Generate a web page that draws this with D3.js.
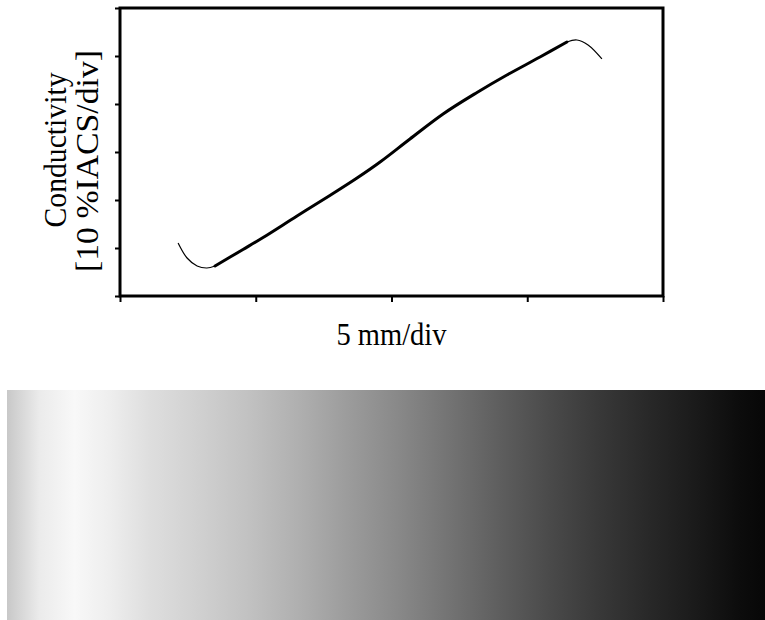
<!DOCTYPE html>
<html>
<head>
<meta charset="utf-8">
<script src="https://cdn.jsdelivr.net/npm/d3@7"></script>
<style>
  html, body { margin: 0; padding: 0; background: #fff; }
  svg { display: block; }
  text { font-family: "Liberation Serif", "Times New Roman", serif; fill: #000; }
</style>
</head>
<body>
<svg id="chart" width="765" height="620"></svg>
<script>
// Position along the specimen (mm) and measured conductivity (%IACS)
const mainX = [3.50, 4.53, 5.27, 6.52, 7.73, 8.73, 9.58, 10.68, 11.90, 13.15, 14.25, 15.47, 16.46];
const mainY = [6.25, 9.69, 12.19, 16.67, 20.94, 24.58, 27.92, 32.71, 37.92, 42.40, 46.04, 49.79, 52.92];
// Edge regions at both ends of the scan
const leftEdgeX = [2.14, 2.47, 2.84, 3.20, 3.50];
const leftEdgeY = [11.04, 7.92, 6.25, 5.83, 6.25];
const rightEdgeX = [16.46, 16.83, 17.24, 17.75];
const rightEdgeY = [52.92, 53.33, 52.29, 49.38];

// Axis divisions: 5 mm/div horizontally, 10 %IACS/div vertically
const xTicks = [0, 5, 10, 15, 20];
const yTicks = [0, 10, 20, 30, 40, 50, 60];

// Grey level (0-255) across the conductivity image strip, by relative position
const stripPos  = [0, 0.043, 0.089, 0.135, 0.188, 0.254, 0.320, 0.386, 0.452, 0.518, 0.584, 0.650, 0.716, 0.782, 0.848, 0.914, 0.967, 1];
const stripGrey = [200, 235, 248, 238, 222, 208, 193, 175, 155, 136, 115, 94, 74, 56, 40, 25, 12, 7];

const svg = d3.select("#chart");

const x = d3.scaleLinear().domain([0, 20]).range([120, 663]);
const y = d3.scaleLinear().domain([0, 60]).range([296, 8]);

// Ticks on left and bottom axes (no labels)
svg.append("g")
  .attr("transform", `translate(${x(0)},0)`)
  .call(d3.axisLeft(y).tickValues(yTicks).tickSize(5).tickFormat(""))
  .call(g => g.select(".domain").remove())
  .call(g => g.selectAll("line").attr("stroke", "#000").attr("stroke-width", 2));

svg.append("g")
  .attr("transform", `translate(0,${y(0)})`)
  .call(d3.axisBottom(x).tickValues(xTicks).tickSize(6).tickFormat(""))
  .call(g => g.select(".domain").remove())
  .call(g => g.selectAll("line").attr("stroke", "#000").attr("stroke-width", 2));

// Plot frame
svg.append("rect")
  .attr("x", x(0)).attr("y", y(60))
  .attr("width", x(20) - x(0)).attr("height", y(0) - y(60))
  .attr("fill", "none").attr("stroke", "#000").attr("stroke-width", 3);

const line = d3.line()
  .x(d => x(d[0]))
  .y(d => y(d[1]))
  .curve(d3.curveCatmullRom.alpha(0.5));

const zip = (a, b) => a.map((v, i) => [v, b[i]]);

svg.append("path")
  .attr("d", line(zip(leftEdgeX, leftEdgeY)))
  .attr("fill", "none").attr("stroke", "#000").attr("stroke-width", 1.2);

svg.append("path")
  .attr("d", line(zip(rightEdgeX, rightEdgeY)))
  .attr("fill", "none").attr("stroke", "#000").attr("stroke-width", 1.2);

svg.append("path")
  .attr("d", line(zip(mainX, mainY)))
  .attr("fill", "none").attr("stroke", "#000").attr("stroke-width", 3)
  .attr("stroke-linecap", "round");

// Axis titles
svg.append("text")
  .attr("x", (x(0) + x(20)) / 2).attr("y", 345)
  .attr("text-anchor", "middle")
  .attr("font-size", 32)
  .attr("textLength", 110)
  .attr("lengthAdjust", "spacingAndGlyphs")
  .text("5 mm/div");

const yTitle = svg.append("g")
  .attr("transform", `translate(0,${(y(0) + y(60)) / 2}) rotate(-90)`);
yTitle.append("text")
  .attr("x", 2).attr("y", 66)
  .attr("text-anchor", "middle")
  .attr("font-size", 32)
  .attr("textLength", 155)
  .attr("lengthAdjust", "spacingAndGlyphs")
  .text("Conductivity");
yTitle.append("text")
  .attr("x", -9).attr("y", 98)
  .attr("text-anchor", "middle")
  .attr("font-size", 32)
  .attr("textLength", 222)
  .attr("lengthAdjust", "spacingAndGlyphs")
  .text("[10 %IACS/div]");

// Conductivity image strip
const grad = svg.append("defs").append("linearGradient")
  .attr("id", "stripGrad")
  .attr("x1", "0%").attr("x2", "100%").attr("y1", "0%").attr("y2", "0%");
grad.selectAll("stop")
  .data(stripPos)
  .join("stop")
  .attr("offset", d => d)
  .attr("stop-color", (d, i) => d3.rgb(stripGrey[i], stripGrey[i], stripGrey[i]).formatHex());

svg.append("rect")
  .attr("x", 7).attr("y", 390)
  .attr("width", 758).attr("height", 230)
  .attr("fill", "url(#stripGrad)");
</script>
</body>
</html>
